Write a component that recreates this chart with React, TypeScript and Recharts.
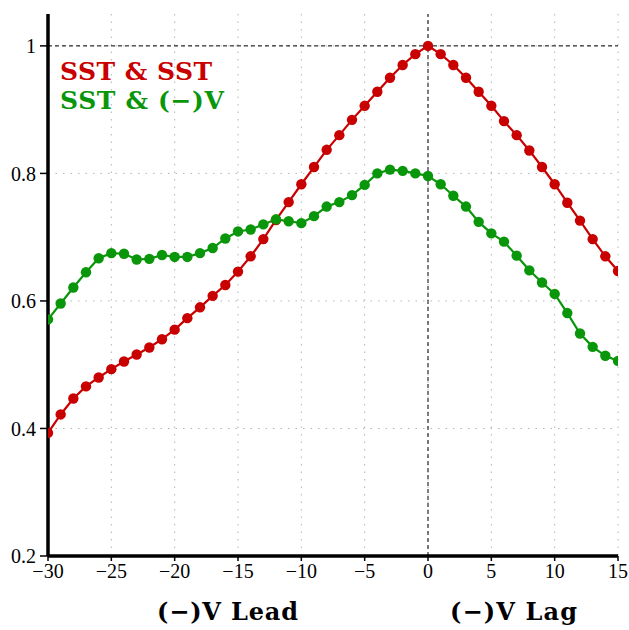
import { LineChart, Line, XAxis, YAxis, CartesianGrid, ReferenceLine } from "recharts";

// lag in months: negative = (-)V leads
const lags = [
  -30, -29, -28, -27, -26, -25, -24, -23, -22, -21, -20, -19, -18, -17, -16, -15,
  -14, -13, -12, -11, -10, -9, -8, -7, -6, -5, -4, -3, -2, -1, 0,
  1, 2, 3, 4, 5, 6, 7, 8, 9, 10, 11, 12, 13, 14, 15,
];

const sstSst = [
  0.393, 0.422, 0.447, 0.466, 0.48, 0.493, 0.505, 0.516, 0.527, 0.54, 0.555, 0.573, 0.59, 0.608, 0.625, 0.646,
  0.67, 0.697, 0.727, 0.755, 0.783, 0.81, 0.837, 0.86, 0.884, 0.906, 0.928, 0.95, 0.97, 0.987, 1.0,
  0.987, 0.97, 0.95, 0.928, 0.906, 0.882, 0.86, 0.836, 0.81, 0.783, 0.754, 0.726, 0.697, 0.67, 0.647,
];

const sstV = [
  0.571, 0.596, 0.621, 0.645, 0.667, 0.675, 0.674, 0.665, 0.666, 0.672, 0.669, 0.669, 0.675, 0.683, 0.698, 0.709,
  0.712, 0.72, 0.728, 0.725, 0.722, 0.733, 0.748, 0.755, 0.766, 0.782, 0.8, 0.806, 0.804, 0.8, 0.796,
  0.783, 0.765, 0.748, 0.724, 0.706, 0.693, 0.671, 0.648, 0.629, 0.611, 0.581, 0.549, 0.528, 0.514, 0.506,
];

const xTicks = [-30, -25, -20, -15, -10, -5, 0, 5, 10, 15];
const yTicks = [0.2, 0.4, 0.6, 0.8, 1];

const RED = "#c80000";
const GREEN = "#0a960a";

const data = lags.map((lag, i) => ({ lag, sstSst: sstSst[i], sstV: sstV[i] }));

const tickFont = { fontSize: 20, fill: "#000", fontFamily: "Liberation Serif" };
const labelFont = { fontFamily: "DejaVu Serif", fontWeight: 700, whiteSpace: "pre" as const };

export default function App() {
  return (
    <div style={{ position: "absolute", left: 0, top: 0, width: 629, height: 630, background: "#fff" }}>
      <LineChart width={629} height={630} data={data} margin={{ top: 14, right: 11, left: 8, bottom: 44 }}>
        <CartesianGrid stroke="#b4b4b4" strokeDasharray="1.5 6" horizontalValues={yTicks} verticalValues={xTicks} />
        <XAxis
          dataKey="lag"
          type="number"
          domain={[-30, 15]}
          ticks={xTicks}
          allowDataOverflow
          height={30}
          tickSize={5}
          tickMargin={3}
          tick={tickFont}
          tickLine={{ stroke: "#000", strokeWidth: 1.5 }}
          axisLine={{ stroke: "#000", strokeWidth: 3.5 }}
          tickFormatter={(v: number) => (v < 0 ? "\u2212" + Math.abs(v) : String(v))}
        />
        <XAxis xAxisId="top" orientation="top" dataKey="lag" type="number" domain={[-30, 15]} height={0} tick={false} tickLine={false} axisLine={{ stroke: "#000", strokeWidth: 2.5 }} />
        <YAxis
          type="number"
          domain={[0.2, 1.05]}
          ticks={yTicks}
          allowDataOverflow
          width={40}
          tickSize={8}
          tickMargin={4}
          tick={tickFont}
          tickLine={{ stroke: "#000", strokeWidth: 1.5 }}
          axisLine={{ stroke: "#000", strokeWidth: 3.5 }}
          tickFormatter={(v: number) => (v === 1 ? "1" : v.toFixed(1))}
        />
        <YAxis yAxisId="right" orientation="right" domain={[0.2, 1.05]} width={0} tick={false} tickLine={false} axisLine={{ stroke: "#000", strokeWidth: 3.5 }} />
        <ReferenceLine y={1} stroke="#000" strokeWidth={1} strokeDasharray="4 3" />
        <ReferenceLine x={0} stroke="#000" strokeWidth={1} strokeDasharray="4 3" />
        <Line dataKey="sstSst" stroke={RED} strokeWidth={2.2} dot={{ r: 5.2, fill: RED, stroke: RED, strokeWidth: 0 }} isAnimationActive={false} />
        <Line dataKey="sstV" stroke={GREEN} strokeWidth={2.2} dot={{ r: 5.2, fill: GREEN, stroke: GREEN, strokeWidth: 0 }} isAnimationActive={false} />
      </LineChart>
      {/* legend and lead/lag captions, stretched to the reference's monospace widths */}
      <svg width={629} height={630} style={{ position: "absolute", left: 0, top: 0, pointerEvents: "none" }}>
        <text x={60} y={80} fontSize={25} fill={RED} textLength={152} lengthAdjust="spacing" style={labelFont}>SST &amp; SST</text>
        <text x={60} y={109} fontSize={25} fill={GREEN} textLength={164} lengthAdjust="spacing" style={labelFont}>SST &amp; (−)V</text>
        <text x={157} y={620} fontSize={24} fill="#000" textLength={141} lengthAdjust="spacing" style={labelFont}>(−)V Lead</text>
        <text x={450} y={620} fontSize={24} fill="#000" textLength={127} lengthAdjust="spacing" style={labelFont}>(−)V Lag</text>
      </svg>
    </div>
  );
}
